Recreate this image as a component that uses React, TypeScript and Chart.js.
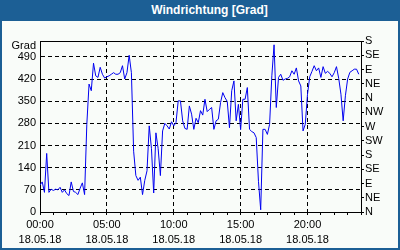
import { useEffect, useRef } from 'react';
import { Chart, registerables } from 'chart.js';

Chart.register(...registerables);

const TITLE = 'Windrichtung [Grad]';
const DATE_LABEL = '18.05.18';
const LEFT_UNIT = 'Grad';
const STEP_MINUTES = 10;

// wind direction in degrees, one value every 10 minutes from 00:00
const DIRECTION_VALUES = [
  85, 95, 62, 185, 62, 72, 68, 72, 70, 78,
  62, 70, 58, 52, 95, 65, 62, 55, 75, 92,
  55, 277, 404, 383, 470, 430, 425, 457, 435, 423,
  427, 430, 435, 440, 435, 435, 440, 462, 420, 440,
  495, 440, 192, 115, 100, 110, 55, 100, 130, 272,
  200, 60, 250, 200, 115, 256, 280, 272, 262, 285,
  272, 282, 351, 351, 288, 264, 261, 335, 309, 261,
  296, 282, 320, 306, 356, 317, 324, 330, 261, 288,
  293, 346, 377, 361, 349, 266, 383, 414, 288, 340,
  260, 356, 356, 393, 261, 254, 250, 235, 97, 7,
  261, 261, 245, 277, 430, 528, 330, 425, 435, 416,
  420, 422, 427, 446, 435, 455, 414, 398, 256, 277,
  372, 427, 444, 462, 446, 455, 425, 459, 438, 444,
  438, 427, 440, 459, 422, 372, 288, 367, 420, 441,
  446, 451, 451, 435,
];

const LEFT_TICKS = [0, 70, 140, 210, 280, 350, 420, 490];
const COMPASS_LABELS = ['N', 'NE', 'E', 'SE', 'S', 'SW', 'W', 'NW', 'N', 'NE', 'E', 'SE', 'S'];
const COMPASS_STEP = 45;
const HOURS = [0, 1, 2, 3, 4, 5, 6, 7, 8, 9, 10, 11, 12, 13, 14, 15, 16, 17, 18, 19, 20, 21, 22, 23, 24];
const LABEL_EVERY_HOURS = 5;
const Y_MAX = 540;
const X_MAX = 24;
const UNIT_LABEL_POS = 525;

const FRAME_BLUE = '#1c5f95';
const PANEL_BG = '#f9fcf9';
const FONT_FAMILY = "'Liberation Sans', Arial, sans-serif";

export default function App() {
  const canvasRef = useRef<HTMLCanvasElement | null>(null);

  useEffect(() => {
    const canvas = canvasRef.current;
    if (!canvas) return;
    const points = DIRECTION_VALUES.map((v, i) => ({ x: (i * STEP_MINUTES) / 60, y: v }));
    const font = { family: FONT_FAMILY, size: 11 };
    const transparent = 'rgba(0,0,0,0)';

    const chart = new Chart(canvas, {
      type: 'line',
      data: {
        datasets: [
          {
            data: points,
            borderColor: '#0000f0',
            borderWidth: 1,
            pointRadius: 0,
            tension: 0,
            fill: false,
            xAxisID: 'x',
            yAxisID: 'y',
          },
        ],
      },
      options: {
        animation: false,
        responsive: false,
        events: [],
        layout: { padding: { top: 20, left: 0, right: 0, bottom: 0 } },
        plugins: {
          legend: { display: false },
          tooltip: { enabled: false },
          title: { display: false },
        },
        scales: {
          x: {
            type: 'linear',
            position: 'bottom',
            min: 0,
            max: X_MAX,
            afterBuildTicks: (s: any) => {
              s.ticks = HOURS.map((h) => ({ value: h }));
            },
            afterFit: (s: any) => {
              s.height = 36;
            },
            ticks: {
              autoSkip: false,
              maxRotation: 0,
              minRotation: 0,
              padding: 2.5,
              color: '#000',
              font: { ...font, lineHeight: '15px' },
              callback: (v: any) => {
                const h = Number(v);
                if (h % LABEL_EVERY_HOURS === 0 && h < X_MAX) {
                  return [String(h).padStart(2, '0') + ':00', DATE_LABEL];
                }
                return '';
              },
            },
            grid: {
              color: (ctx: any) =>
                ctx.tick && ctx.tick.value > 0 && ctx.tick.value < X_MAX && ctx.tick.value % LABEL_EVERY_HOURS === 0
                  ? '#000'
                  : transparent,
              lineWidth: 1,
              drawTicks: true,
              tickLength: 3,
              tickColor: '#000',
              tickWidth: 1,
            },
            border: { display: true, color: '#000', width: 1, dash: [4, 3] },
          },
          x2: {
            type: 'linear',
            position: 'top',
            min: 0,
            max: X_MAX,
            afterFit: (s: any) => {
              s.height = 0;
            },
            ticks: { display: false },
            grid: { display: false, drawTicks: false },
            border: { display: true, color: '#000', width: 1 },
          },
          y: {
            position: 'left',
            min: 0,
            max: Y_MAX,
            afterBuildTicks: (s: any) => {
              s.ticks = [...LEFT_TICKS, UNIT_LABEL_POS].map((v) => ({ value: v }));
            },
            afterFit: (s: any) => {
              s.width = 38;
            },
            ticks: {
              autoSkip: false,
              padding: 4,
              color: '#000',
              font,
              callback: (v: any) => (Number(v) === UNIT_LABEL_POS ? LEFT_UNIT : String(v)),
            },
            grid: {
              drawTicks: false,
              lineWidth: 1,
              color: (ctx: any) =>
                ctx.tick && ctx.tick.value > 0 && ctx.tick.value !== UNIT_LABEL_POS ? '#000' : transparent,
            },
            border: { display: true, color: '#000', width: 1, dash: [4, 3] },
          },
          y2: {
            position: 'right',
            min: 0,
            max: Y_MAX,
            afterBuildTicks: (s: any) => {
              s.ticks = COMPASS_LABELS.map((_, i) => ({ value: i * COMPASS_STEP }));
            },
            afterFit: (s: any) => {
              s.width = 37;
            },
            ticks: {
              autoSkip: false,
              padding: 1,
              color: '#000',
              font,
              callback: (_v: any, i: number) => COMPASS_LABELS[i],
            },
            grid: {
              drawOnChartArea: false,
              drawTicks: true,
              tickLength: 3,
              color: '#000',
              tickColor: '#000',
            },
            border: { display: true, color: '#000', width: 1 },
          },
        },
      },
    } as any);

    return () => chart.destroy();
  }, []);

  return (
    <div
      style={{
        position: 'fixed',
        left: 0,
        top: 0,
        width: 400,
        height: 250,
        background: FRAME_BLUE,
        overflow: 'hidden',
      }}
    >
      <div
        style={{
          position: 'absolute',
          left: 0,
          top: 0,
          width: 400,
          height: 21,
          lineHeight: '21px',
          boxSizing: 'border-box',
          paddingLeft: 19,
          textAlign: 'center',
          color: '#fff',
          fontFamily: FONT_FAMILY,
          fontWeight: 'bold',
          fontSize: 12,
        }}
      >
        {TITLE}
      </div>
      <div
        style={{
          position: 'absolute',
          left: 2,
          top: 21,
          width: 396,
          height: 227,
          background: PANEL_BG,
        }}
      >
        <canvas ref={canvasRef} width={396} height={227} style={{ display: 'block', width: 396, height: 227 }} />
      </div>
    </div>
  );
}
